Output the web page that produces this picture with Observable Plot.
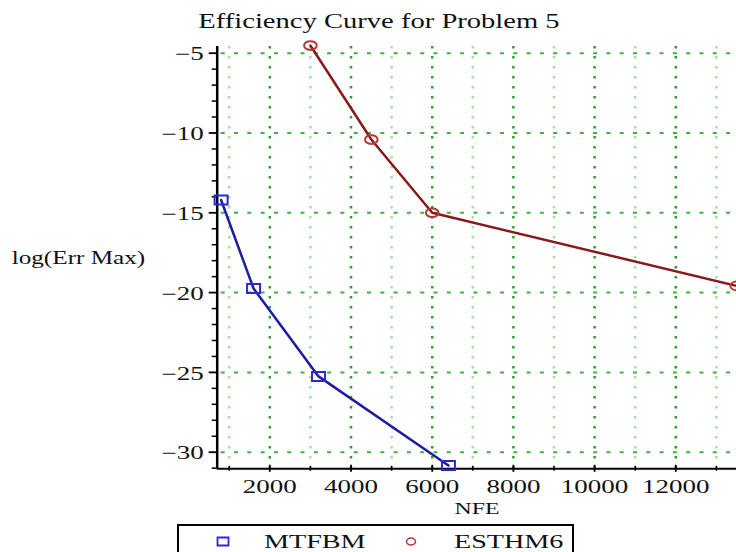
<!DOCTYPE html>
<html><head><meta charset="utf-8">
<script src="https://cdn.jsdelivr.net/npm/d3@7"></script>
<script src="https://cdn.jsdelivr.net/npm/@observablehq/plot@0.6"></script>
<style>
body{margin:0;background:#fff;width:736px;height:552px;overflow:hidden;}
#wrap{position:relative;width:736px;height:552px;overflow:hidden;}
#wrap svg{position:absolute;left:0;top:0;}
</style></head><body><div id="wrap"></div>
<script>
const title = "Efficiency Curve for Problem 5";
const xLabel = "NFE";
const yLabel = "log(Err Max)";
const seriesNames = ["MTFBM", "ESTHM6"];
const mtfbmNFE = [800, 1600, 3200, 6400];
const mtfbmErr = [-14.2, -19.75, -25.25, -30.83];
const esthm6NFE = [3000, 4500, 6000, 13500];
const esthm6Err = [-4.52, -10.41, -15.0, -19.58];
const xTicks = [2000, 4000, 6000, 8000, 10000, 12000];
const xMinorTicks = [1000, 3000, 5000, 7000, 9000, 11000, 13000];
const yTicks = [-5, -10, -15, -20, -25, -30];
const yMinorTicks = [-6,-7,-8,-9,-11,-12,-13,-14,-16,-17,-18,-19,-21,-22,-23,-24,-26,-27,-28,-29,-31];
const xDomain = [704, 13495];
const yDomain = [-31.04, -4.58];

const FONT = "Liberation Serif";
const BLUE = "#1c1ca6", BLUE_M = "#2a2ad0", RED = "#8a1a1a", RED_M = "#b33a3a";

const mtfbm = mtfbmNFE.map((x, i) => ({nfe: x, err: mtfbmErr[i]}));
const esthm6 = esthm6NFE.map((x, i) => ({nfe: x, err: esthm6Err[i]}));
const fmt = d => d < 0 ? "\u2212" + Math.abs(d) : String(d);

const rectSym = (w, h) => ({draw(ctx) {
  ctx.moveTo(-w/2, -h/2); ctx.lineTo(w/2, -h/2); ctx.lineTo(w/2, h/2); ctx.lineTo(-w/2, h/2); ctx.closePath();
}});
const ellSym = (rx, ry) => ({draw(ctx) {
  const k = 0.5523;
  ctx.moveTo(rx, 0);
  ctx.bezierCurveTo(rx, ry*k, rx*k, ry, 0, ry);
  ctx.bezierCurveTo(-rx*k, ry, -rx, ry*k, -rx, 0);
  ctx.bezierCurveTo(-rx, -ry*k, -rx*k, -ry, 0, -ry);
  ctx.bezierCurveTo(rx*k, -ry, rx, -ry*k, rx, 0);
  ctx.closePath();
}});

const H = 552;
const plot = Plot.plot({
  width: 736, height: H,
  marginLeft: 216.7, marginRight: 0, marginTop: 46, marginBottom: H - 468.3,
  x: {domain: xDomain, axis: null},
  y: {domain: yDomain, axis: null},
  style: {fontFamily: FONT, background: "transparent", overflow: "hidden"},
  marks: [
    Plot.ruleX(xMinorTicks, {stroke: "#a6dea6", strokeWidth: 2.5, strokeDasharray: "2.5,7.5"}),
    Plot.ruleX(xTicks, {stroke: "#2ea02e", strokeWidth: 2.5, strokeDasharray: "2.5,7.5"}),
    Plot.ruleY(yTicks, {stroke: "#3cb43c", strokeWidth: 2, strokeDasharray: "4,9.3", strokeDashoffset: -4}),
    Plot.ruleX([xDomain[0]], {stroke: "black", strokeWidth: 2.5}),
    Plot.ruleY([yDomain[0]], {stroke: "black", strokeWidth: 2}),
    Plot.ruleY(yTicks, {x1: xDomain[0], x2: xDomain[0], insetLeft: -8, stroke: "black", strokeWidth: 1.8}),
    Plot.ruleY(yMinorTicks, {x1: xDomain[0], x2: xDomain[0], insetLeft: -5, stroke: "black", strokeWidth: 1.5}),
    Plot.ruleX(xTicks, {y1: yDomain[0], y2: yDomain[0], insetTop: -3.5, insetBottom: -3.5, stroke: "black", strokeWidth: 1.8}),
    Plot.ruleX(xMinorTicks, {y1: yDomain[0], y2: yDomain[0], insetTop: -2.5, insetBottom: -2.5, stroke: "black", strokeWidth: 1.5}),
    Plot.line(mtfbm, {x: "nfe", y: "err", stroke: BLUE, strokeWidth: 2.5}),
    Plot.line(esthm6, {x: "nfe", y: "err", stroke: RED, strokeWidth: 2.5}),
    Plot.dot(mtfbm, {x: "nfe", y: "err", symbol: rectSym(13, 9), stroke: BLUE_M, strokeWidth: 2, fill: "none"}),
    Plot.dot(esthm6, {x: "nfe", y: "err", symbol: ellSym(6.3, 4.4), stroke: RED_M, strokeWidth: 2, fill: "none"}),
    Plot.text(yTicks, {x: xDomain[0], y: d => d, text: fmt, textAnchor: "end", dx: -13.4, dy: 1.5, fontSize: 18, fontFamily: FONT, fill: "#111"}),
    Plot.text(xTicks, {x: d => d, y: yDomain[0], text: fmt, dy: 18.4, fontSize: 18, fontFamily: FONT, fill: "#111"})
  ]
});
plot.querySelectorAll("text").forEach(t => {
  const tr = t.getAttribute("transform") || "";
  t.setAttribute("transform", tr + " scale(1.5,1)");
});
document.getElementById("wrap").appendChild(plot);

const ov = d3.select("#wrap").append("svg").attr("width", 736).attr("height", 552)
  .style("font-family", FONT).style("pointer-events", "none");
const txt = (s, x, y, size, sx, anchor) => ov.append("text").text(s)
  .attr("transform", `translate(${x},${y}) scale(${sx},1)`)
  .attr("text-anchor", anchor).attr("font-size", size).attr("fill", "#111");
txt(title, 379, 28.3, 20, 1.43, "middle");
txt(yLabel, 11.7, 264, 18, 1.4, "start");
txt(xLabel, 477, 514.3, 17, 1.4, "middle");

// legend
ov.append("rect").attr("x", 178).attr("y", 525).attr("width", 395).attr("height", 40)
  .attr("fill", "none").attr("stroke", "black").attr("stroke-width", 2);
ov.append("path").attr("transform", "translate(223,541.5)").attr("d", d3.symbol(rectSym(11, 8))())
  .attr("fill", "none").attr("stroke", BLUE_M).attr("stroke-width", 1.8);
txt(seriesNames[0], 264, 547.5, 18.5, 1.52, "start");
ov.append("path").attr("transform", "translate(411,541.5)").attr("d", d3.symbol(ellSym(4.5, 3.5))())
  .attr("fill", "none").attr("stroke", RED_M).attr("stroke-width", 1.6);
txt(seriesNames[1], 454, 547.5, 18.5, 1.52, "start");
</script></body></html>
